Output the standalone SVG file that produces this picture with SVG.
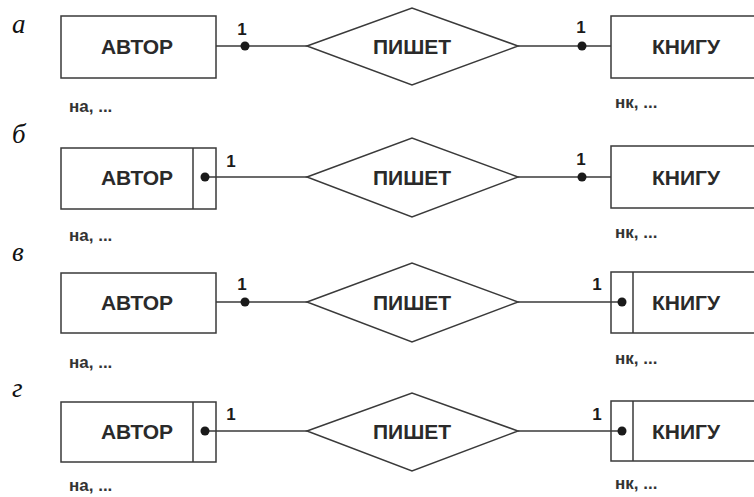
<svg xmlns="http://www.w3.org/2000/svg" width="754" height="497" viewBox="0 0 754 497">
<style>
.box{fill:#fff;stroke:#3a3a3a;stroke-width:1.5}
.ln{fill:none;stroke:#3a3a3a;stroke-width:1.5}
.dot{fill:#1a1a1a}
.t{font-family:"Liberation Sans",Arial,sans-serif;font-weight:bold;font-size:21px;fill:#2a2a2a;text-anchor:middle}
.one{font-family:"Liberation Sans",Arial,sans-serif;font-weight:bold;font-size:17px;fill:#1a1a1a;text-anchor:middle}
.attr{font-family:"Liberation Sans",Arial,sans-serif;font-weight:bold;font-size:17px;fill:#333}
.lbl{font-family:"Liberation Serif","Times New Roman",serif;font-style:italic;font-size:27px;fill:#111}
</style>
<rect width="754" height="497" fill="#fff"/>
<g id="labels">
<text class="lbl" x="12" y="33">а</text>
<text class="lbl" x="12" y="143">б</text>
<text class="lbl" x="12" y="261">в</text>
<text class="lbl" x="12" y="397">г</text>
</g>
<g id="a-avtor"><rect class="box" x="61" y="16" width="155" height="62"/><text class="t" x="137" y="54">АВТОР</text><text class="attr" x="69" y="112">на, ...</text></g>
<g id="a-pishet"><polygon class="box" points="307,46 412,8 518,46 412,85"/><text class="t" x="412" y="54">ПИШЕТ</text></g>
<g id="a-knigu"><rect class="box" x="611" y="16" width="160" height="62"/><text class="t" x="686" y="54">КНИГУ</text><text class="attr" x="615" y="108">нк, ...</text></g>

<g id="b-avtor"><rect class="box" x="61" y="148" width="155" height="61"/><line class="ln" x1="193" y1="148" x2="193" y2="209"/><text class="t" x="137" y="185">АВТОР</text><text class="attr" x="69" y="241">на, ...</text></g>
<g id="b-pishet"><polygon class="box" points="307,177 412,138 518,177 412,217"/><text class="t" x="412" y="185">ПИШЕТ</text></g>
<g id="b-knigu"><rect class="box" x="611" y="146" width="160" height="62"/><text class="t" x="686" y="185">КНИГУ</text><text class="attr" x="615" y="238">нк, ...</text></g>

<g id="v-avtor"><rect class="box" x="61" y="273" width="155" height="60"/><text class="t" x="137" y="310">АВТОР</text><text class="attr" x="69" y="368">на, ...</text></g>
<g id="v-pishet"><polygon class="box" points="307,302 412,263 518,302 412,342"/><text class="t" x="412" y="310">ПИШЕТ</text></g>
<g id="v-knigu"><rect class="box" x="611" y="272" width="160" height="61"/><line class="ln" x1="633" y1="272" x2="633" y2="333"/><text class="t" x="686" y="310">КНИГУ</text><text class="attr" x="615" y="364">нк, ...</text></g>

<g id="g-avtor"><rect class="box" x="61" y="402" width="155" height="60"/><line class="ln" x1="193" y1="402" x2="193" y2="462"/><text class="t" x="137" y="439">АВТОР</text><text class="attr" x="69" y="491">на, ...</text></g>
<g id="g-pishet"><polygon class="box" points="307,431 412,393 518,431 412,471"/><text class="t" x="412" y="439">ПИШЕТ</text></g>
<g id="g-knigu"><rect class="box" x="611" y="401" width="160" height="60"/><line class="ln" x1="633" y1="401" x2="633" y2="461"/><text class="t" x="686" y="439">КНИГУ</text><text class="attr" x="615" y="489">нк, ...</text></g>

<g id="connectors">
<line class="ln" x1="216" y1="46" x2="307" y2="46"/>
<line class="ln" x1="518" y1="46" x2="611" y2="46"/>
<line class="ln" x1="205" y1="177" x2="307" y2="177"/>
<line class="ln" x1="518" y1="177" x2="611" y2="177"/>
<line class="ln" x1="216" y1="302" x2="307" y2="302"/>
<line class="ln" x1="518" y1="302" x2="622" y2="302"/>
<line class="ln" x1="205" y1="431" x2="307" y2="431"/>
<line class="ln" x1="518" y1="431" x2="622" y2="431"/>
<circle class="dot" cx="245" cy="46" r="4.5"/>
<circle class="dot" cx="582" cy="46" r="4.5"/>
<circle class="dot" cx="205" cy="177" r="4.5"/>
<circle class="dot" cx="582" cy="177" r="4.5"/>
<circle class="dot" cx="245" cy="302" r="4.5"/>
<circle class="dot" cx="622" cy="302" r="4.5"/>
<circle class="dot" cx="205" cy="431" r="4.5"/>
<circle class="dot" cx="622" cy="431" r="4.5"/>
<text class="one" x="242" y="35">1</text>
<text class="one" x="581" y="33">1</text>
<text class="one" x="231" y="167">1</text>
<text class="one" x="581" y="165">1</text>
<text class="one" x="242" y="290">1</text>
<text class="one" x="597" y="290">1</text>
<text class="one" x="231" y="420">1</text>
<text class="one" x="597" y="420">1</text>
</g>
</svg>
